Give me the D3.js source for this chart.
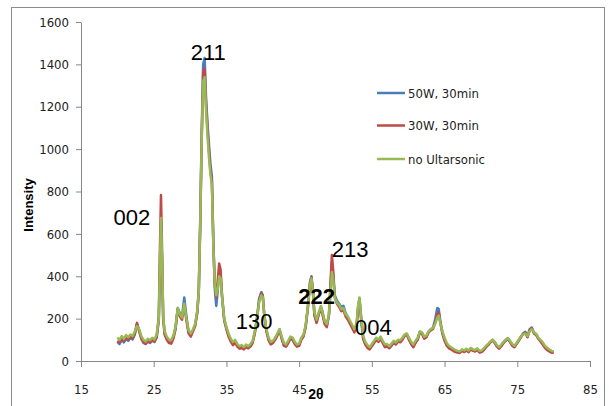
<!DOCTYPE html>
<html>
<head>
<meta charset="utf-8">
<script src="https://cdn.jsdelivr.net/npm/d3@7"></script>
<style>
  html, body { margin: 0; padding: 0; background: #fff; }
  svg { display: block; }
  .tick text { font-family: "Liberation Sans Narrow", "DejaVu Sans Condensed", sans-serif; font-size: 13px; fill: #222; }
</style>
</head>
<body>
<div id="chart"></div>
<script>
// 2-theta positions shared by the three scans
var twoTheta = [
  20.0, 20.3, 20.6, 20.9, 21.2, 21.5, 21.8, 22.1, 22.4, 22.7,
  23.0, 23.3, 23.6, 23.9, 24.2, 24.5, 24.8, 25.1, 25.4, 25.7,
  25.85, 26.0, 26.15, 26.3, 26.5, 26.8, 27.1, 27.4, 27.7, 28.0,
  28.3, 28.6, 28.9, 29.2, 29.5, 29.8, 30.1, 30.4, 30.7, 31.0,
  31.2, 31.4, 31.6, 31.8, 32.0, 32.2, 32.4, 32.6, 32.8, 33.0,
  33.2, 33.4, 33.6, 33.8, 34.0, 34.2, 34.4, 34.7, 35.0, 35.3,
  35.6, 35.9, 36.2, 36.5, 36.8, 37.1, 37.4, 37.7, 38.0, 38.3,
  38.6, 38.9, 39.2, 39.5, 39.8, 40.0, 40.2, 40.5, 40.8, 41.1,
  41.4, 41.7, 42.0, 42.3, 42.6, 42.9, 43.2, 43.5, 43.8, 44.1,
  44.4, 44.7, 45.0, 45.3, 45.6, 45.9, 46.2, 46.5, 46.7, 46.9,
  47.1, 47.4, 47.7, 48.0, 48.2, 48.5, 48.8, 49.1, 49.3, 49.5,
  49.7, 49.9, 50.2, 50.5, 50.8, 51.1, 51.4, 51.7, 52.0, 52.3,
  52.6, 52.9, 53.1, 53.3, 53.5, 53.8, 54.1, 54.4, 54.7, 55.0,
  55.3, 55.6, 55.9, 56.2, 56.5, 56.8, 57.1, 57.4, 57.7, 58.0,
  58.3, 58.6, 58.9, 59.2, 59.5, 59.8, 60.1, 60.4, 60.7, 61.0,
  61.3, 61.6, 61.9, 62.2, 62.5, 62.8, 63.1, 63.4, 63.7, 64.0,
  64.2, 64.4, 64.7, 65.0, 65.3, 65.6, 65.9, 66.2, 66.5, 66.8,
  67.1, 67.4, 67.7, 68.0, 68.3, 68.6, 68.9, 69.2, 69.5, 69.8,
  70.1, 70.4, 70.7, 71.0, 71.3, 71.6, 71.9, 72.2, 72.5, 72.8,
  73.1, 73.4, 73.7, 74.0, 74.3, 74.6, 74.9, 75.2, 75.5, 75.8,
  76.1, 76.4, 76.7, 77.0, 77.3, 77.6, 77.9, 78.2, 78.5, 78.8,
  79.1, 79.4, 79.7, 80.0
];

var blue50W = [
  90, 80, 100, 88, 105, 95, 110, 102, 125, 175,
  145, 108, 85, 80, 92, 85, 98, 90, 110, 190,
  430, 660, 460, 210, 130, 105, 88, 85, 112, 155,
  250, 225, 210, 300, 210, 135, 120, 145, 170, 235,
  340, 680, 1080, 1400, 1430, 1240, 1120, 1020, 930, 870,
  560, 340, 260, 330, 420, 400, 300, 195, 155, 120,
  95, 80, 92, 72, 62, 68, 58, 70, 62, 72,
  90, 135, 205, 295, 325, 310, 220, 145, 102, 82,
  88, 105, 125, 150, 110, 75, 70, 88, 110, 105,
  82, 70, 75, 105, 120, 165, 255, 375, 400, 325,
  220, 185, 225, 255, 235, 185, 165, 215, 330, 470,
  390, 310, 285, 270, 255, 260, 225, 205, 180, 160,
  140, 170, 250, 295, 215, 110, 80, 65, 58, 72,
  88, 105, 95, 110, 88, 68, 72, 62, 75, 88,
  80, 95, 92, 105, 120, 128, 105, 82, 68, 88,
  105, 138, 132, 108, 115, 138, 150, 155, 195, 250,
  245, 190, 135, 100, 78, 65, 58, 50, 45, 42,
  40, 50, 45, 52, 45, 58, 50, 48, 55, 42,
  45, 55, 68, 78, 90, 100, 88, 70, 60, 72,
  88, 98, 108, 92, 75, 68, 82, 98, 115, 130,
  138, 115, 150, 158, 132, 125, 108, 95, 80, 65,
  55, 48, 42, 40
];

var red30W = [
  95, 88, 105, 95, 110, 100, 115, 108, 130, 180,
  140, 105, 88, 82, 95, 88, 100, 92, 112, 210,
  520, 783, 520, 200, 125, 100, 85, 82, 105, 150,
  245, 210, 195, 265, 190, 130, 115, 140, 165, 230,
  330, 640, 1040, 1360, 1380, 1210, 1090, 990, 900, 850,
  560, 360, 300, 380, 460, 430, 310, 190, 150, 115,
  92, 75, 88, 68, 58, 62, 55, 65, 60, 68,
  85, 130, 195, 285, 320, 305, 215, 140, 98, 78,
  85, 100, 120, 145, 105, 72, 68, 85, 105, 100,
  80, 68, 72, 100, 115, 160, 250, 370, 395, 320,
  215, 180, 220, 250, 220, 175, 160, 220, 360, 500,
  420, 300, 270, 255, 235, 240, 210, 195, 175, 155,
  135, 165, 245, 290, 205, 105, 78, 62, 55, 70,
  85, 100, 90, 105, 85, 65, 70, 60, 72, 85,
  78, 92, 88, 100, 118, 125, 100, 80, 65, 85,
  100, 135, 128, 105, 112, 135, 145, 150, 180, 220,
  230, 185, 130, 95, 72, 60, 55, 48, 42, 40,
  38, 48, 42, 50, 42, 55, 48, 45, 52, 40,
  42, 52, 65, 75, 88, 98, 85, 68, 58, 70,
  85, 95, 105, 90, 72, 65, 80, 95, 112, 128,
  135, 112, 145, 155, 130, 122, 105, 92, 78, 62,
  52, 45, 40, 38
];

var greenNoUS = [
  110, 100, 118, 105, 122, 112, 125, 118, 140, 165,
  150, 118, 100, 92, 105, 98, 110, 102, 125, 200,
  450, 675, 480, 220, 140, 115, 100, 98, 120, 160,
  250, 220, 205, 270, 200, 145, 130, 150, 175, 240,
  330, 650, 1050, 1320, 1340, 1180, 1060, 960, 880, 830,
  540, 360, 310, 340, 400, 390, 300, 200, 160, 130,
  105, 90, 100, 80, 70, 75, 65, 78, 70, 80,
  95, 140, 200, 280, 310, 300, 220, 150, 110, 90,
  95, 110, 130, 150, 115, 85, 78, 95, 115, 110,
  90, 78, 82, 110, 125, 170, 260, 360, 390, 330,
  230, 195, 230, 260, 230, 190, 175, 220, 320, 420,
  380, 300, 275, 265, 245, 250, 220, 210, 190, 170,
  150, 180, 260, 300, 220, 120, 90, 75, 65, 80,
  95, 110, 100, 115, 95, 78, 80, 70, 82, 95,
  88, 100, 98, 110, 125, 130, 110, 90, 78, 95,
  110, 140, 135, 115, 120, 140, 150, 155, 175, 205,
  215, 180, 140, 110, 85, 72, 65, 58, 52, 48,
  45, 55, 50, 58, 50, 62, 55, 52, 60, 48,
  50, 60, 72, 80, 92, 100, 90, 75, 65, 78,
  90, 100, 108, 95, 80, 72, 85, 100, 115, 125,
  130, 118, 140, 150, 135, 128, 110, 100, 88, 72,
  62, 55, 48, 45
];

var seriesNames = ["50W, 30min", "30W, 30min", "no Ultarsonic"];
var seriesColors = ["#4a7ebb", "#be4b48", "#98b954"];
var xTicks = [15, 25, 35, 45, 55, 65, 75, 85];
var yTicks = [0, 200, 400, 600, 800, 1000, 1200, 1400, 1600];

// peak labels (hkl) placed at the peak they name
var peakLabels = ["002", "211", "130", "222", "213", "004"];
var peakAt = [[22.0, 640], [32.5, 1420], [38.8, 150], [47.4, 270], [52.0, 490], [55.2, 125]];

var W = 609, H = 406;
var svg = d3.select("#chart").append("svg")
  .attr("width", W)
  .attr("height", H);

// chart border
svg.append("rect")
  .attr("x", 11.5).attr("y", 7.5)
  .attr("width", 593).attr("height", 420)
  .attr("fill", "#fff")
  .attr("stroke", "#8c8c8c")
  .attr("stroke-width", 1);

var x = d3.scaleLinear().domain([15, 85]).range([81, 590]);
var y = d3.scaleLinear().domain([0, 1600]).range([361, 22]);

// axes
var gx = svg.append("g")
  .attr("transform", "translate(0,361)")
  .call(d3.axisBottom(x).tickValues(xTicks).tickSize(6).tickSizeOuter(0).tickPadding(18));
var gy = svg.append("g")
  .attr("transform", "translate(81,0)")
  .call(d3.axisLeft(y).tickValues(yTicks).tickFormat(d3.format("d"))
    .tickSize(5).tickSizeOuter(0).tickPadding(7));
[gx, gy].forEach(function(g) {
  g.select(".domain").attr("stroke", "#868686");
  g.selectAll(".tick line").attr("stroke", "#868686");
});

// data lines
var allSeries = [blue50W, red30W, greenNoUS];
var line = d3.line()
  .x(function(d) { return x(d[0]); })
  .y(function(d) { return y(d[1]); })
  .curve(d3.curveLinear);

allSeries.forEach(function(vals, i) {
  var pts = twoTheta.map(function(t, k) { return [t, vals[k]]; });
  svg.append("path")
    .datum(pts)
    .attr("d", line)
    .attr("fill", "none")
    .attr("stroke", seriesColors[i])
    .attr("stroke-width", 2.5)
    .attr("stroke-linejoin", "round");
});

// hkl labels
svg.selectAll("text.hkl")
  .data(peakLabels)
  .enter()
  .append("text")
    .attr("class", "hkl")
    .attr("x", function(d, i) { return x(peakAt[i][0]); })
    .attr("y", function(d, i) { return y(peakAt[i][1]); })
    .attr("text-anchor", "middle")
    .attr("font-family", "Liberation Sans, Arial, sans-serif")
    .attr("font-size", 22)
    .attr("font-weight", function(d) { return d === "222" ? "bold" : "normal"; })
    .attr("fill", "#000")
    .text(function(d) { return d; });

// legend
var legend = svg.append("g").attr("transform", "translate(377,0)");
seriesNames.forEach(function(name, i) {
  var ly = [93, 125.5, 159][i];
  legend.append("line")
    .attr("x1", 0).attr("x2", 28)
    .attr("y1", ly).attr("y2", ly)
    .attr("stroke", seriesColors[i])
    .attr("stroke-width", 2.5);
  legend.append("text")
    .attr("x", 31).attr("y", ly)
    .attr("dy", "0.35em")
    .attr("font-family", "Liberation Sans Narrow, DejaVu Sans Condensed, sans-serif")
    .attr("font-size", 13)
    .attr("fill", "#222")
    .text(name);
});

// axis titles
svg.append("text")
  .attr("x", 316).attr("y", 399)
  .attr("text-anchor", "middle")
  .attr("font-family", "Liberation Sans, Arial, sans-serif")
  .attr("font-weight", "bold")
  .attr("font-size", 14)
  .text("2θ");

svg.append("text")
  .attr("transform", "translate(33,205) rotate(-90)")
  .attr("text-anchor", "middle")
  .attr("font-family", "Liberation Sans, Arial, sans-serif")
  .attr("font-weight", "bold")
  .attr("font-size", 13)
  .text("Intensity");
</script>
</body>
</html>
